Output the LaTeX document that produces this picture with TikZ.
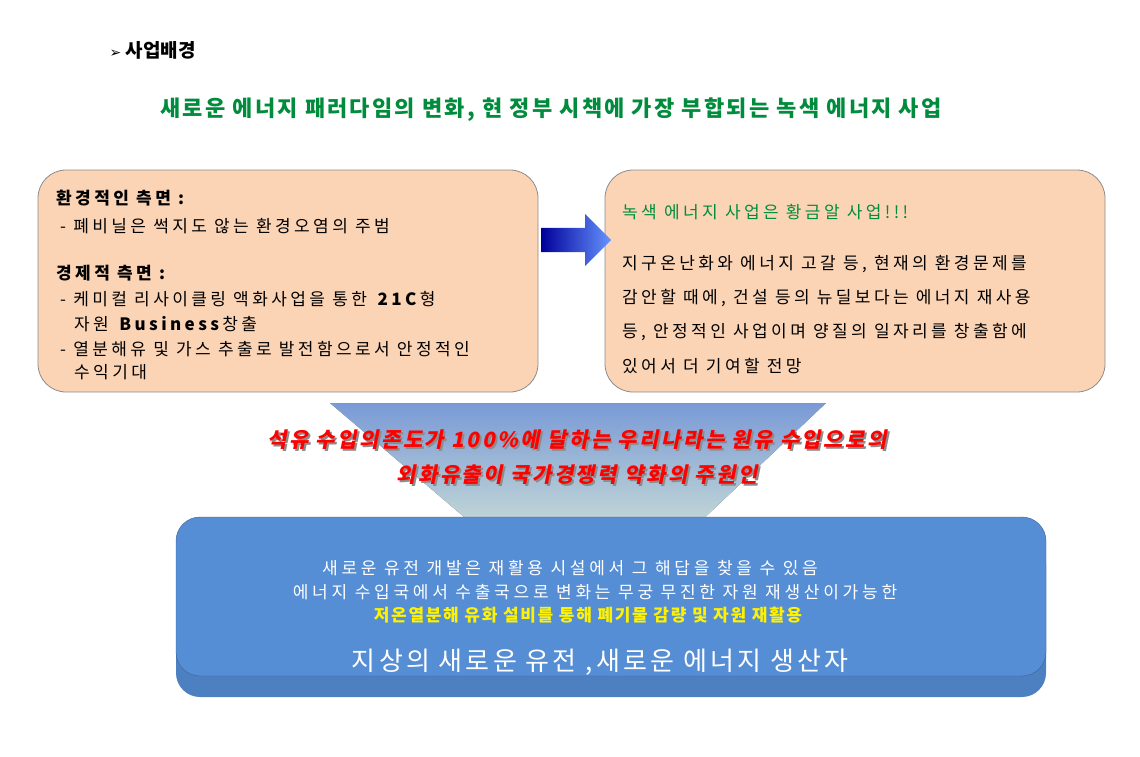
\documentclass[tikz,border=0pt]{standalone}
\usepackage{fontspec}
\setmainfont{Noto Sans CJK KR}
\newfontfamily\dejavu{DejaVu Sans}
\usetikzlibrary{shapes.arrows}
\definecolor{peach}{RGB}{251,212,182}
\definecolor{hgreen}{RGB}{0,140,60}
\definecolor{bbox}{RGB}{85,142,213}
\newcommand{\lsp}[1]{\addfontfeatures{LetterSpace=#1}}
\tikzset{
  panel/.style={draw=black!45,line width=0.8pt,fill=peach,rounded corners=28pt},
  body/.style={anchor=west,font=\fontsize{17}{19}\selectfont\lsp{20},inner sep=0pt},
  wt/.style={text=white,font=\fontsize{17}{19}\selectfont\lsp{22},inner sep=0pt},
  redt/.style={font=\fontsize{21}{23}\selectfont\bfseries\addfontfeatures{LetterSpace=12,FakeSlant=0.2},inner sep=0pt},
}
\begin{document}
\begin{tikzpicture}[x=1pt,y=-1pt]
\useasboundingbox (0,0) rectangle (1140,757);
\node[anchor=west,font=\fontsize{19}{21}\selectfont\bfseries] (t) at (106,50) {{\dejavu\fontsize{14}{16}\selectfont ➢} 사업배경};
\node[text=hgreen,font=\fontsize{22}{24}\selectfont\bfseries\lsp{10}] (h) at (551,110) {새로운 에너지 패러다임의 변화, 현 정부 시책에 가장 부합되는 녹색 에너지 사업};
% funnel
\fill[top color=cyan!35!blue!45,bottom color=cyan!10,opacity=0.8] (330,403) -- (826,403) -- (700,522) -- (470,522) -- cycle;
\node[panel,minimum width=500pt,minimum height=222pt] (L) at (288,281) {};
\node[panel,minimum width=500pt,minimum height=222pt] (R) at (855,281) {};
\node[body] (l1) at (56,198) {\textbf{환경적인 측면 :}};
\node[body] (l2) at (60,226) {- 폐비닐은 썩지도 않는 환경오염의 주범};
\node[body] (l3) at (56,273) {\textbf{경제적 측면 :}};
\node[body] (l4) at (60,299) {- 케미컬 리사이클링 액화사업을 통한 \textbf{21C}형};
\node[body] (l5) at (74,324) {자원 \textbf{Business}창출};
\node[body] (l6) at (60,349) {- 열분해유 및 가스 추출로 발전함으로서 안정적인};
\node[body] (l7) at (74,372) {수익기대};
\node[body,text=hgreen] (r1) at (622,212) {녹색 에너지 사업은 황금알 사업!!!};
\node[body] (r2) at (622,264) {지구온난화와 에너지 고갈 등, 현재의 환경문제를};
\node[body] (r3) at (622,298) {감안할 때에, 건설 등의 뉴딜보다는 에너지 재사용};
\node[body] (r4) at (622,332) {등, 안정적인 사업이며 양질의 일자리를 창출함에};
\node[body] (r5) at (622,366) {있어서 더 기여할 전망};
\node[single arrow,minimum height=70pt,minimum width=52pt,single arrow head extend=4pt,left color=blue!60!black,right color=blue!70!cyan!60,draw=none] (ar) at (570,240) {};
\node[redt,text=black!45] at (579,442) {석유 수입의존도가 100\%에 달하는 우리나라는 원유 수입으로의};
\node[redt,text=black!45] at (579,477) {외화유출이 국가경쟁력 약화의 주원인};
\node[redt,text=red] (rt1) at (577,440) {석유 수입의존도가 100\%에 달하는 우리나라는 원유 수입으로의};
\node[redt,text=red] (rt2) at (577,475) {외화유출이 국가경쟁력 약화의 주원인};
\fill[bbox!90!black,rounded corners=24pt] (176,540) rectangle (1046,697);
\fill[bbox,rounded corners=24pt,draw=bbox!70!black] (176,517) rectangle (1046,676);
\node[wt] (b1) at (570,568) {새로운 유전 개발은 재활용 시설에서 그 해답을 찾을 수 있음};
\node[wt] (b2) at (595,592) {에너지 수입국에서 수출국으로 변화는 무궁 무진한 자원 재생산이가능한};
\node[wt,text=yellow,font=\fontsize{17}{19}\selectfont\bfseries\lsp{10}] (b3) at (588,615) {저온열분해 유화 설비를 통해 폐기물 감량 및 자원 재활용};
\node[wt,font=\fontsize{26}{28}\selectfont\lsp{12}] (b4) at (600,662) {지상의 새로운 유전 ,새로운 에너지 생산자};
\end{tikzpicture}
\end{document}
